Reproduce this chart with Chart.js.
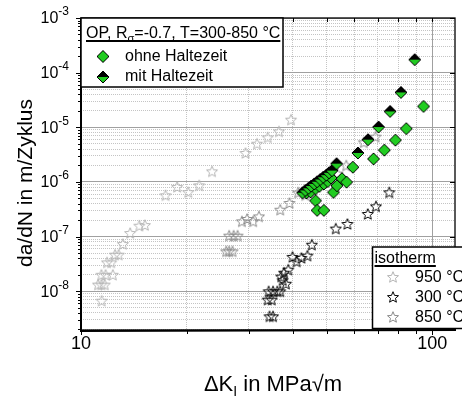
<!DOCTYPE html>
<html>
<head>
<meta charset="utf-8">
<script src="https://cdn.jsdelivr.net/npm/chart.js@4.4.1/dist/chart.umd.min.js"></script>
<style>
  html, body { margin: 0; padding: 0; background: #fff; }
  #wrap { width: 462px; height: 398px; }
</style>
</head>
<body>
<div id="wrap"><canvas id="grafico" width="462" height="398"></canvas></div>
<script>
// da/dN über ΔK, log-log, Datenpunkte

// isotherm 950 °C
const dk950 = [11.45, 11.18, 11.43, 11.68, 11.43, 11.75, 12.32, 11.86, 12.19, 12.5, 12.8, 13.16, 13.8, 14.66, 15.2, 17.4, 18.78, 20.2, 21.7, 23.6, 29.4, 31.7, 34.0, 36.6, 39.6];
const v950 = [6.7e-9, 1.32e-8, 1.32e-8, 1.32e-8, 2.0e-8, 2.0e-8, 2.0e-8, 3.37e-8, 3.37e-8, 4.67e-8, 4.67e-8, 7.3e-8, 1.16e-7, 1.58e-7, 1.62e-7, 5.7e-7, 8.1e-7, 6.5e-7, 8.65e-7, 1.56e-6, 3.39e-6, 5.0e-6, 6.53e-6, 8.4e-6, 1.38e-5];

// isotherm 850 °C
const dk850 = [26.4, 27.2, 27.9, 25.9, 26.4, 27.0, 28.7, 29.7, 30.9, 32.1, 36.9, 39.2, 41.5, 43.5, 50.5, 53.7, 56.9, 63.8, 68.9];
const v850 = [1.04e-7, 1.04e-7, 1.04e-7, 5.37e-8, 5.37e-8, 5.37e-8, 1.9e-7, 2.1e-7, 1.9e-7, 2.34e-7, 3.1e-7, 4.12e-7, 6.4e-7, 5.72e-7, 1.25e-6, 1.42e-6, 2.0e-6, 5.3e-6, 6.73e-6];

// isotherm 300 °C
const dk300 = [34.4, 35.2, 34.0, 34.9, 34.2, 35.2, 36.2, 36.9, 37.15, 37.5, 37.85, 38.3, 38.9, 40.0, 41.1, 42.4, 44.1, 45.4, 53.1, 57.3, 65.5, 69.1, 75.4];
const v300 = [3.47e-9, 3.47e-9, 7.0e-9, 7.0e-9, 9.93e-9, 9.93e-9, 9.93e-9, 9.93e-9, 1.85e-8, 1.59e-8, 2.18e-8, 1.37e-8, 2.48e-8, 4.24e-8, 3.5e-8, 4.07e-8, 4.47e-8, 7.1e-8, 1.4e-7, 1.7e-7, 2.59e-7, 3.57e-7, 6.45e-7];

// OP ohne Haltezeit
const dkOhne = [43.8, 45.0, 46.5, 47.7, 49.1, 50.4, 51.5, 46.5, 47.0, 49.1, 52.3, 53.5, 55.3, 57.0, 59.4, 68.0, 73.0, 78.5, 84.3, 94.4];
const vOhne = [6.28e-7, 6.55e-7, 7.52e-7, 8.3e-7, 9.17e-7, 1.02e-6, 1.18e-6, 4.54e-7, 3.02e-7, 3.02e-7, 6.44e-7, 8.53e-7, 1.147e-6, 9.89e-7, 1.86e-6, 2.64e-6, 3.81e-6, 5.81e-6, 9.43e-6, 2.41e-5];

// OP mit Haltezeit
const dkMit = [42.7, 43.5, 44.4, 45.2, 46.1, 47.0, 48.0, 48.9, 49.9, 50.8, 51.8, 53.4, 61.4, 65.6, 70.3, 75.8, 81.4, 89.1];
const vMit = [6.35e-7, 7.0e-7, 7.65e-7, 8.4e-7, 9.2e-7, 1.01e-6, 1.11e-6, 1.22e-6, 1.33e-6, 1.47e-6, 1.61e-6, 2.16e-6, 3.39e-6, 5.93e-6, 1.01e-5, 1.95e-5, 4.35e-5, 1.73e-4];

// Achsen
const xMin = 10, xMax = 116;
const yMin = 1.95e-9, yMax = 1e-3;
const xTickValues = [10, 100];
const xTickLabels = ['10', '100'];
const yTickExp = [-8, -7, -6, -5, -4, -3];

const legendOpTitle = ['OP, R', 'σ', '=-0.7, T=300-850 °C'];
const legendOpItems = ['ohne Haltezeit', 'mit Haltezeit'];
const legendIsoTitle = 'isotherm';
const legendIsoItems = ['950 °C', '300 °C', '850 °C'];

const FONT = 'Arial, "Liberation Sans", sans-serif';
const GREEN = '#22cc22';
const COL950 = '#b4b4b4', COL300 = '#000000', COL850 = '#8a8a8a';

function punkte(xs, ys) {
  return xs.map((x, i) => ({ x: x, y: ys[i] }));
}

function stern(color) {
  const c = document.createElement('canvas');
  c.width = 16; c.height = 16;
  const g = c.getContext('2d');
  g.beginPath();
  for (let i = 0; i < 10; i++) {
    const r = i % 2 ? 2.6 : 5.8;
    const a = -Math.PI / 2 + i * Math.PI / 5;
    g.lineTo(8 + r * Math.cos(a), 8.5 + r * Math.sin(a));
  }
  g.closePath();
  g.strokeStyle = color;
  g.lineWidth = 1;
  g.stroke();
  return c;
}

function raute(oben, unten) {
  const c = document.createElement('canvas');
  c.width = 16; c.height = 16;
  const g = c.getContext('2d');
  const m = 8, h = 6;
  g.beginPath();
  g.moveTo(m - h, m); g.lineTo(m, m - h); g.lineTo(m + h, m); g.closePath();
  g.fillStyle = oben; g.fill();
  g.beginPath();
  g.moveTo(m - h, m); g.lineTo(m, m + h); g.lineTo(m + h, m); g.closePath();
  g.fillStyle = unten; g.fill();
  g.beginPath();
  g.moveTo(m - h, m); g.lineTo(m, m - h); g.lineTo(m + h, m); g.lineTo(m, m + h); g.closePath();
  g.strokeStyle = '#000'; g.lineWidth = 1; g.stroke();
  return c;
}

const imgOhne = raute(GREEN, GREEN);
const imgMit = raute('#000', GREEN);
const img950 = stern(COL950);
const img300 = stern(COL300);
const img850 = stern(COL850);

function logTicks(min, max) {
  const t = [];
  for (let e = Math.floor(Math.log10(min)); e <= Math.ceil(Math.log10(max)); e++) {
    for (let m = 1; m <= 9; m++) {
      const v = m * Math.pow(10, e);
      if (v >= min * 0.999 && v <= max * 1.001) t.push({ value: v, major: m === 1 });
    }
  }
  return t;
}

function achse(min, max) {
  return {
    type: 'logarithmic',
    min: min,
    max: max,
    afterBuildTicks: s => { s.ticks = logTicks(min, max); },
    afterFit: s => { if (s.isHorizontal()) s.height = 0; else s.width = 0; },
    ticks: { display: false },
    grid: {
      drawTicks: false,
      color: c => (c.tick && c.tick.major) ? '#a0a0a0' : '#c4c4c4',
      lineWidth: 1
    },
    border: {
      display: false,
      dash: c => (c.tick && c.tick.major) ? [] : [1, 1]
    }
  };
}

function textMitIndex(ctx, x, y, teile, size, subSize, subDy) {
  // teile: [normal, index, normal]
  ctx.font = size + 'px ' + FONT;
  ctx.fillText(teile[0], x, y);
  x += ctx.measureText(teile[0]).width;
  ctx.font = subSize + 'px ' + FONT;
  ctx.fillText(teile[1], x, y + subDy);
  x += ctx.measureText(teile[1]).width;
  ctx.font = size + 'px ' + FONT;
  ctx.fillText(teile[2], x, y);
  x += ctx.measureText(teile[2]).width;
  return x;
}

const rahmenPlugin = {
  id: 'rahmen',
  afterDraw(chart) {
    const ctx = chart.ctx;
    const a = chart.chartArea;
    const xs = chart.scales.x, ys = chart.scales.y;
    ctx.save();

    // Rahmen
    ctx.strokeStyle = '#000';
    ctx.lineWidth = 1.3;
    ctx.strokeRect(a.left, a.top, a.right - a.left, a.bottom - a.top);
    ctx.lineWidth = 2;
    ctx.beginPath();
    ctx.moveTo(a.left, a.top); ctx.lineTo(a.left, a.bottom + 1); ctx.lineTo(a.right + 1, a.bottom);
    ctx.stroke();

    // Striche
    ctx.lineWidth = 1;
    ys.ticks.forEach(t => {
      const py = Math.round(ys.getPixelForValue(t.value)) + 0.5;
      const l = t.major ? 5 : 3;
      ctx.beginPath();
      ctx.moveTo(a.left - l, py); ctx.lineTo(a.left, py);
      if (t.major) { ctx.moveTo(a.right, py); ctx.lineTo(a.right - 5, py); }
      ctx.stroke();
    });
    xs.ticks.forEach(t => {
      const px = Math.round(xs.getPixelForValue(t.value)) + 0.5;
      const l = t.major ? 5 : 4;
      ctx.beginPath();
      ctx.moveTo(px, a.bottom); ctx.lineTo(px, a.bottom + l);
      ctx.moveTo(px, a.top); ctx.lineTo(px, a.top + 4);
      ctx.stroke();
    });

    // Beschriftung y
    ctx.fillStyle = '#000';
    ctx.textBaseline = 'middle';
    ctx.textAlign = 'left';
    yTickExp.forEach(e => {
      const py = ys.getPixelForValue(Math.pow(10, e));
      const sup = String(e);
      ctx.font = '12px ' + FONT;
      const ws = ctx.measureText(sup).width;
      ctx.font = '16px ' + FONT;
      const wb = ctx.measureText('10').width;
      const x0 = 69 - ws - wb;
      ctx.fillText('10', x0, py + 1);
      ctx.font = '12px ' + FONT;
      ctx.fillText(sup, x0 + wb, py - 6);
    });

    // Beschriftung x
    ctx.textAlign = 'center';
    ctx.font = '18px ' + FONT;
    xTickValues.forEach((v, i) => {
      ctx.fillText(xTickLabels[i], xs.getPixelForValue(v), 344);
    });

    // Achsentitel
    ctx.save();
    ctx.translate(26, 183);
    ctx.rotate(-Math.PI / 2);
    ctx.font = '21px ' + FONT;
    ctx.fillText('da/dN in m/Zyklus', 0, 0);
    ctx.restore();

    ctx.textAlign = 'left';
    ctx.textBaseline = 'alphabetic';
    ctx.font = '22px ' + FONT;
    const tTeile = ['ΔK', 'I', ' in MPa√m'];
    let wt = ctx.measureText(tTeile[0]).width + ctx.measureText(tTeile[2]).width;
    ctx.font = '14px ' + FONT;
    wt += ctx.measureText(tTeile[1]).width;
    textMitIndex(ctx, 273 - wt / 2, 391, tTeile, 22, 14, 5);

    // Legende OP
    ctx.fillStyle = '#fff';
    ctx.fillRect(a.left, a.top, 202, 69);
    ctx.strokeStyle = '#000';
    ctx.lineWidth = 1.5;
    ctx.strokeRect(a.left, a.top, 202, 69);
    ctx.fillStyle = '#000';
    const xEnde = textMitIndex(ctx, 86, 38, legendOpTitle, 16, 11, 4);
    ctx.lineWidth = 2;
    ctx.beginPath(); ctx.moveTo(86, 41); ctx.lineTo(xEnde, 41); ctx.stroke();
    ctx.textBaseline = 'middle';
    ctx.font = '16px ' + FONT;
    [imgOhne, imgMit].forEach((img, i) => {
      const yy = 56.5 + i * 20.5;
      ctx.drawImage(img, 103 - 8, yy - 8);
      ctx.fillText(legendOpItems[i], 125, yy);
    });

    // Legende isotherm
    ctx.fillStyle = '#fff';
    ctx.fillRect(372.5, 247, 100, 81.5);
    ctx.lineWidth = 1.5;
    ctx.strokeRect(372.5, 247, 100, 81.5);
    ctx.fillStyle = '#000';
    ctx.textBaseline = 'alphabetic';
    ctx.font = '16px ' + FONT;
    ctx.fillText(legendIsoTitle, 374.5, 263);
    const wi = ctx.measureText(legendIsoTitle).width;
    ctx.lineWidth = 2;
    ctx.beginPath(); ctx.moveTo(374.5, 266); ctx.lineTo(374.5 + wi, 266); ctx.stroke();
    ctx.textBaseline = 'middle';
    [img950, img300, img850].forEach((img, i) => {
      const yy = 277.5 + i * 20;
      ctx.drawImage(img, 393 - 8, yy - 8.5);
      ctx.fillText(legendIsoItems[i], 415, yy);
    });

    ctx.restore();
  }
};

const ctxGrafico = document.getElementById('grafico').getContext('2d');
const grafico = new Chart(ctxGrafico, {
  type: 'scatter',
  data: {
    datasets: [
      { label: 'mit Haltezeit', data: punkte(dkMit, vMit), pointStyle: imgMit, pointRadius: 6, order: 0 },
      { label: 'ohne Haltezeit', data: punkte(dkOhne, vOhne), pointStyle: imgOhne, pointRadius: 6, order: 1 },
      { label: '300 °C', data: punkte(dk300, v300), pointStyle: img300, pointRadius: 6, order: 2 },
      { label: '850 °C', data: punkte(dk850, v850), pointStyle: img850, pointRadius: 6, order: 3 },
      { label: '950 °C', data: punkte(dk950, v950), pointStyle: img950, pointRadius: 6, order: 4 }
    ]
  },
  options: {
    responsive: false,
    animation: false,
    devicePixelRatio: 1,
    events: [],
    layout: { padding: { left: 81, top: 18, right: 1, bottom: 68 } },
    scales: {
      x: achse(xMin, xMax),
      y: achse(yMin, yMax)
    },
    plugins: {
      legend: { display: false },
      tooltip: { enabled: false }
    }
  },
  plugins: [rahmenPlugin]
});
</script>
</body>
</html>
